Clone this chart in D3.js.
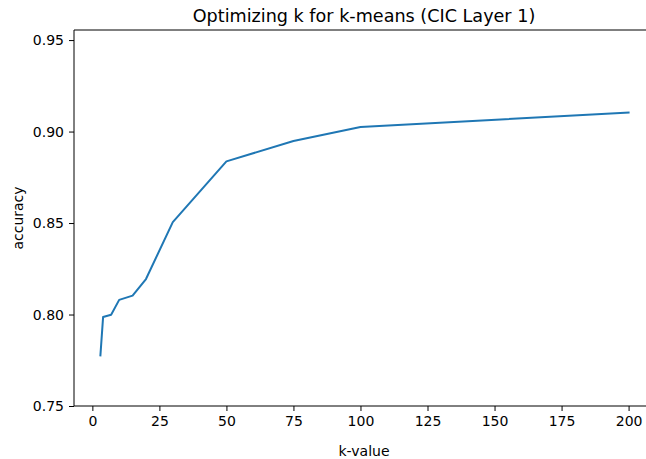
<!DOCTYPE html>
<html><head><meta charset="utf-8">
<script src="https://cdn.jsdelivr.net/npm/d3@7"></script>
<style>body{margin:0;background:#fff}svg{display:block}text{font-family:"DejaVu Sans",sans-serif;fill:#000}</style>
</head><body>
<svg id="c" width="646" height="459"></svg>
<script>
const kValues = [3, 4, 7, 10, 15, 20, 30, 50, 75, 100, 200];
const accuracy = [0.7777, 0.7986, 0.7999, 0.8080, 0.8103, 0.8194, 0.8505, 0.8837, 0.8948, 0.9025, 0.9104];
const xTicks = [0, 25, 50, 75, 100, 125, 150, 175, 200];
const yTicks = [0.75, 0.80, 0.85, 0.90, 0.95];
const title = "Optimizing k for k-means (CIC Layer 1)";

const svg = d3.select("#c");
const L = 74, R = 655, T = 30, B = 406;
const x = d3.scaleLinear().domain([-6.85, 209.85]).range([L, R]);
const y = d3.scaleLinear().domain([0.75, 0.9555]).range([B, T]);

const data = kValues.map((k, i) => ({k, a: accuracy[i]}));
svg.append("path").datum(data)
  .attr("fill", "none").attr("stroke", "#1f77b4").attr("stroke-width", 2)
  .attr("stroke-linejoin", "round").attr("stroke-linecap", "square")
  .attr("d", d3.line().x(d => x(d.k)).y(d => y(d.a)));

const xa = svg.append("g").attr("transform", `translate(0,${B})`)
  .call(d3.axisBottom(x).tickValues(xTicks).tickFormat(d3.format("d")).tickSizeOuter(0).tickSize(5).tickPadding(5));
const ya = svg.append("g").attr("transform", `translate(${L},0)`)
  .call(d3.axisLeft(y).tickValues(yTicks).tickFormat(d3.format(".2f")).tickSizeOuter(0).tickSize(5).tickPadding(5));
[xa, ya].forEach(g => {
  g.select(".domain").remove();
  g.selectAll("line").attr("stroke", "#000").attr("stroke-width", 1);
  g.selectAll("text").style("font-family", "DejaVu Sans").style("font-size", "14px").attr("fill", "#000");
});
// spines
svg.append("line").attr("x1", L).attr("x2", R).attr("y1", B).attr("y2", B).attr("stroke", "#000").attr("stroke-width", 1);
svg.append("line").attr("x1", L).attr("x2", R).attr("y1", T).attr("y2", T).attr("stroke", "#000").attr("stroke-width", 1);
svg.append("line").attr("x1", L).attr("x2", L).attr("y1", T).attr("y2", B).attr("stroke", "#000").attr("stroke-width", 1);
svg.append("line").attr("x1", R).attr("x2", R).attr("y1", T).attr("y2", B).attr("stroke", "#000").attr("stroke-width", 1);

svg.append("text").attr("x", 364).attr("y", 22).attr("text-anchor", "middle")
  .style("font-size", "17.6px").text(title);
svg.append("text").attr("x", 364).attr("y", 456).attr("text-anchor", "middle")
  .style("font-size", "14px").text("k-value");
svg.append("text").attr("transform", `translate(23,${(T + B) / 2}) rotate(-90)`).attr("text-anchor", "middle")
  .style("font-size", "14px").text("accuracy");
</script>
</body></html>
